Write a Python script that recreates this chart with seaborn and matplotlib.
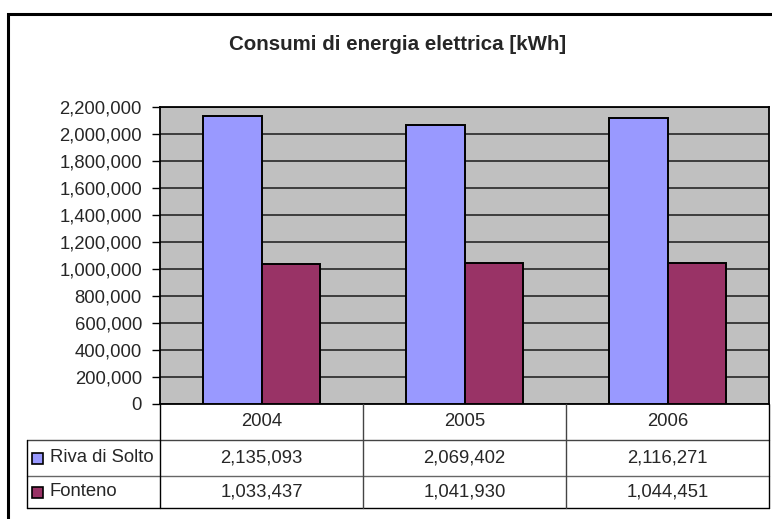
import matplotlib
matplotlib.use("Agg")
import matplotlib.pyplot as plt
from matplotlib.lines import Line2D
from matplotlib.patches import Rectangle
import pandas as pd
import seaborn as sns

# Data
anni = ["2004", "2005", "2006"]
serie = ["Riva di Solto", "Fonteno"]
riva_di_solto = [2135093, 2069402, 2116271]
fonteno = [1033437, 1041930, 1044451]
colori = ["#9999FF", "#993366"]
y_ticks = list(range(0, 2200001, 200000))

df = pd.DataFrame({
    "Anno": anni * 2,
    "kWh": riva_di_solto + fonteno,
    "Sito": [serie[0]] * 3 + [serie[1]] * 3,
})

W, H = 772, 519
FS = 13.3
sns.set_style("white")
plt.rcParams["font.family"] = ["Liberation Sans", "DejaVu Sans"]

fig = plt.figure(figsize=(W / 100, H / 100), dpi=100)


def fx(x):
    return x / W


def fy(y):
    return 1 - y / H


# Plot area geometry (pixels)
L, R, T, B = 160, 769, 107, 404
ax = fig.add_axes([fx(L), fy(B), fx(R) - fx(L), fy(T) - fy(B)])
ax.set_facecolor("#C0C0C0")

sns.barplot(data=df, x="Anno", y="kWh", hue="Sito", palette=colori,
            width=0.572, gap=0, saturation=1, edgecolor="black",
            linewidth=1.4, legend=False, ax=ax, zorder=3)

ax.set_ylim(0, 2200000)
ax.set_yticks(y_ticks)
ax.set_yticklabels([f"{v:,}" for v in y_ticks], fontsize=FS)
ax.yaxis.grid(True, color="#1a1a1a", linewidth=1.1, zorder=1)
ax.set_axisbelow(True)
ax.tick_params(axis="y", which="both", left=True, length=6, width=1,
               pad=7, color="black")
ax.tick_params(axis="x", bottom=False, labelbottom=False)
ax.set_xlabel("")
ax.set_ylabel("")
for s in ax.spines.values():
    s.set_visible(True)
    s.set_color("black")
    s.set_linewidth(1.3)

# Title
fig.text(fx(398), fy(44), "Consumi di energia elettrica [kWh]",
         ha="center", va="center", fontsize=14.8, fontweight="bold")

# Outer chart frame
fig.add_artist(Rectangle((fx(8), fy(540)), fx(800) - fx(8), fy(14) - fy(540),
                         fill=False, edgecolor="black", linewidth=2.2,
                         transform=fig.transFigure))


def hline(x0, x1, y, color="black", lw=1.0):
    fig.add_artist(Line2D([fx(x0), fx(x1)], [fy(y), fy(y)], color=color,
                          linewidth=lw, transform=fig.transFigure))


def vline(x, y0, y1, color="black", lw=1.0):
    fig.add_artist(Line2D([fx(x), fx(x)], [fy(y0), fy(y1)], color=color,
                          linewidth=lw, transform=fig.transFigure))


# Data table below the plot
TL = 27
rows_y = [404, 440, 476, 508]
cols_x = [L, L + (R - L) / 3, L + 2 * (R - L) / 3, R]

hline(TL, R, rows_y[1], "#444444")
hline(TL, R, rows_y[2], "#666666")
hline(TL, R, rows_y[3], "black")
vline(TL, rows_y[1], rows_y[3], "black")
for i, x in enumerate(cols_x):
    vline(x, rows_y[0], rows_y[3], "black" if i in (0, 3) else "#444444")

for j, anno in enumerate(anni):
    cx = (cols_x[j] + cols_x[j + 1]) / 2
    fig.text(fx(cx), fy((rows_y[0] + rows_y[1]) / 2), anno,
             ha="center", va="center", fontsize=FS)

valori = [riva_di_solto, fonteno]
for r, (nome, vals, col) in enumerate(zip(serie, valori, colori)):
    yc = (rows_y[r + 1] + rows_y[r + 2]) / 2
    fig.add_artist(Rectangle((fx(32), fy(yc + 5.5)), fx(11), 11 / H,
                             facecolor=col, edgecolor="black", linewidth=1.2,
                             transform=fig.transFigure))
    fig.text(fx(50), fy(yc), nome, ha="left", va="center", fontsize=FS)
    for j, v in enumerate(vals):
        cx = (cols_x[j] + cols_x[j + 1]) / 2
        fig.text(fx(cx), fy(yc), f"{v:,}", ha="center", va="center",
                 fontsize=FS)

fig.savefig("out.png", dpi=100)
